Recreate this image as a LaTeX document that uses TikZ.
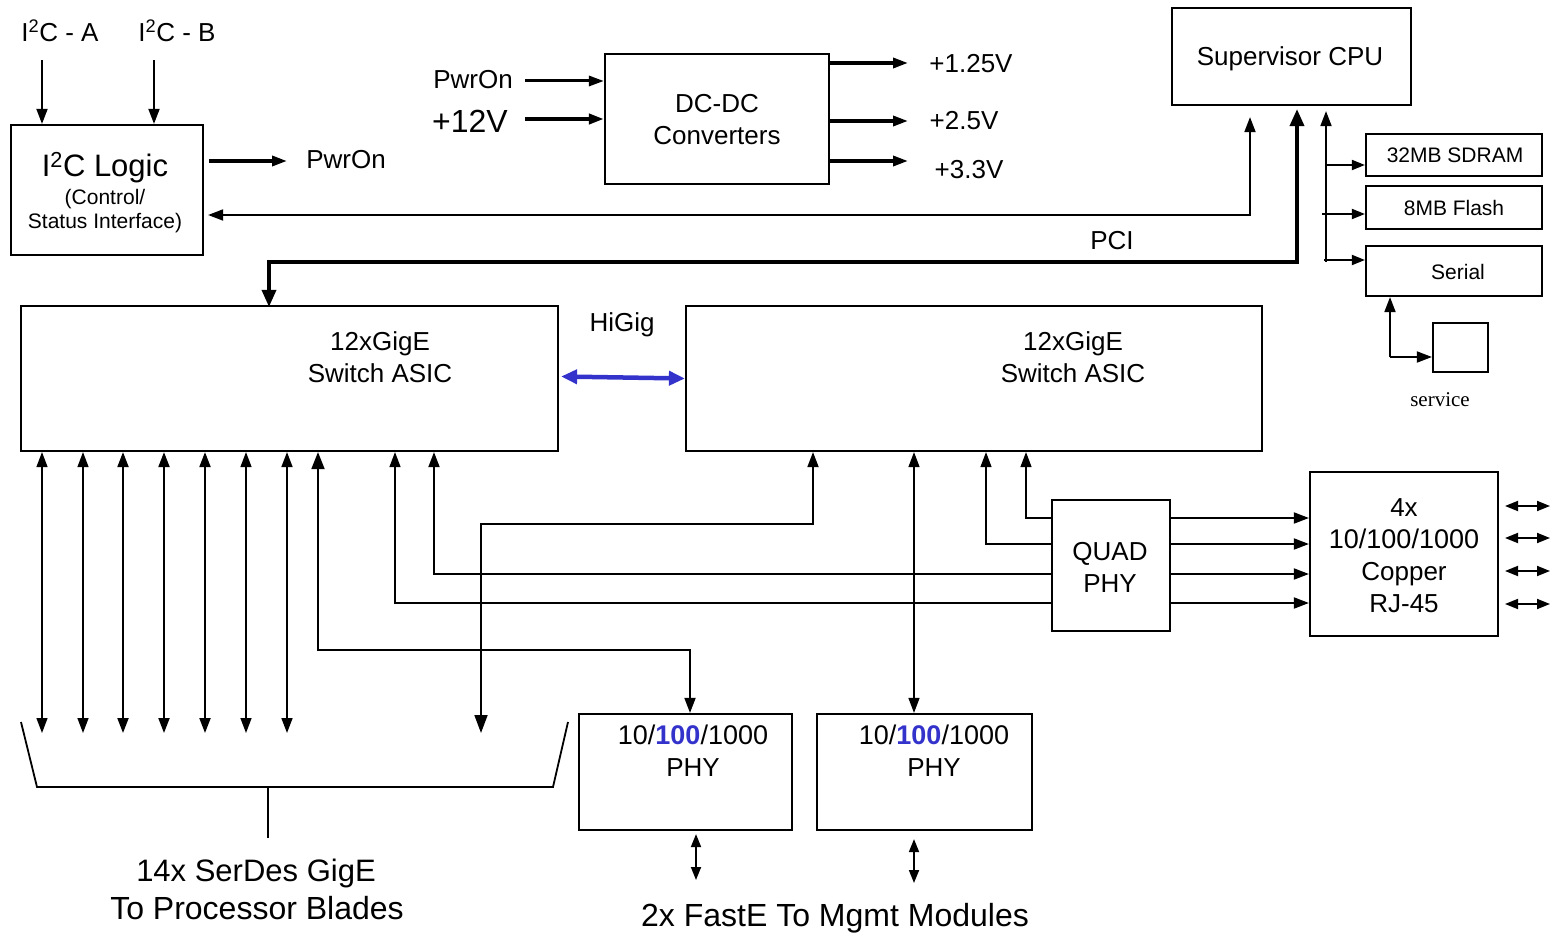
\documentclass[tikz,border=0pt]{standalone}
\usepackage{fontspec}
\setmainfont{Liberation Sans}
\newfontfamily\servfont{Liberation Serif}
\usetikzlibrary{arrows.meta,calc}
\definecolor{hig}{RGB}{51,51,204}
\begin{document}
\begin{tikzpicture}[x=1pt,y=-1pt,
  box/.style={draw,line width=2.2pt,inner sep=0pt},
  tt/.style={inner sep=0pt,anchor=base},
  t21/.style={tt,font=\fontsize{21}{25}\selectfont},
  t26/.style={tt,font=\fontsize{26}{31}\selectfont},
  t27/.style={tt,font=\fontsize{27}{31}\selectfont},
  t31/.style={tt,font=\fontsize{31}{36}\selectfont},
  t32/.style={tt,font=\fontsize{32}{38}\selectfont},
  ln/.style={line width=1.8pt},
  thinl/.style={line width=1.3pt},
  wl/.style={line width=3.4pt,>={Triangle[length=15pt,width=10pt]}},
  pci/.style={line width=3.6pt,>={Triangle[length=17pt,width=14pt]}},
  sm/.style={>={Triangle[length=13pt,width=10pt]}},
  >={Triangle[length=15pt,width=11pt]}]
\useasboundingbox (0,0) rectangle (1553,933);

% ---------- boxes ----------
\node[box,minimum width=192pt,minimum height=130pt] (i2c) at (107,190) {};
\node[box,minimum width=224pt,minimum height=130pt] (dcdc) at (717,119) {};
\node[box,minimum width=239pt,minimum height=97pt] (cpu) at (1291.5,56.5) {};
\node[box,minimum width=176pt,minimum height=42pt] (sdram) at (1454,155) {};
\node[box,minimum width=176pt,minimum height=43pt] (flash) at (1454,207.5) {};
\node[box,minimum width=176pt,minimum height=50pt] (serial) at (1454,271) {};
\node[box,minimum width=55pt,minimum height=49pt] (svc) at (1460.5,347.5) {};
\node[box,minimum width=537pt,minimum height=145pt] (asicL) at (289.5,378.5) {};
\node[box,minimum width=576pt,minimum height=145pt] (asicR) at (974,378.5) {};
\node[box,minimum width=118pt,minimum height=131pt] (quad) at (1111,565.5) {};
\node[box,minimum width=188pt,minimum height=164pt] (rj) at (1404,554) {};
\node[box,minimum width=213pt,minimum height=116pt] (phy1) at (685.5,772) {};
\node[box,minimum width=215pt,minimum height=116pt] (phy2) at (924.5,772) {};

% ---------- texts ----------
\node[t26] (lblA) at (60,42) {I\textsuperscript{2}C - A};
\node[t26] (lblB) at (177,42) {I\textsuperscript{2}C - B};
\node[t31] (i2cT1) at (105,177) {I\textsuperscript{2}C Logic};
\node[t21] (i2cT2) at (105,205) {(Control/};
\node[t21] (i2cT3) at (105,229) {Status Interface)};
\node[t26] (pwOut) at (346,169) {PwrOn};
\node[t26] (pwIn) at (473,89) {PwrOn};
\node[t32] (v12) at (470,133) {+12V};
\node[t26] (dcT1) at (717,113) {DC-DC};
\node[t26] (dcT2) at (717,145) {Converters};
\node[t26] (v125) at (971,73) {+1.25V};
\node[t26] (v25) at (964,130) {+2.5V};
\node[t26] (v33) at (969,179) {+3.3V};
\node[t26] (cpuT) at (1290,66) {Supervisor CPU};
\node[t21] (sdT) at (1455,163) {32MB SDRAM};
\node[t21] (flT) at (1454,216) {8MB Flash};
\node[t21] (seT) at (1458,280) {Serial};
\node[tt,font=\servfont\fontsize{21}{25}\selectfont] (svT) at (1440,406) {service};
\node[t26] (pciT) at (1112,250) {PCI};
\node[t26] (hgT) at (622,332) {HiGig};
\node[t26] (aLT1) at (380,350) {12xGigE};
\node[t26] (aLT2) at (380,382) {Switch ASIC};
\node[t26] (aRT1) at (1073,350) {12xGigE};
\node[t26] (aRT2) at (1073,382) {Switch ASIC};
\node[t26] (qT1) at (1110,560) {QUAD};
\node[t26] (qT2) at (1110,592) {PHY};
\node[t26] (rjT1) at (1404,516) {4x};
\node[t27] (rjT2) at (1404,548) {10/100/1000};
\node[t26] (rjT3) at (1404,580) {Copper};
\node[t26] (rjT4) at (1404,612) {RJ-45};
\node[t27] (p1T1) at (693,744) {10/\textbf{\textcolor{hig}{100}}/1000};
\node[t26] (p1T2) at (693,776) {PHY};
\node[t27] (p2T1) at (934,744) {10/\textbf{\textcolor{hig}{100}}/1000};
\node[t26] (p2T2) at (934,776) {PHY};
\node[t31] (serT1) at (256,881) {14x SerDes GigE};
\node[t32] (serT2) at (257,919) {To Processor Blades};
\node[t32] (mgT) at (835,926) {2x FastE To Mgmt Modules};

% ---------- connectors ----------
% I2C inputs
\coordinate (ia) at (42,60);
\coordinate (ib) at (154,60);
\draw[ln,->] (ia) -- (ia |- i2c.north);
\draw[ln,->] (ib) -- (ib |- i2c.north);
% PwrOn out
\coordinate (pw) at (287,161);
\draw[wl,->] ($(i2c.east |- pw)+(5,0)$) -- (pw);
% DC inputs
\coordinate (d1) at (525,81);
\coordinate (d2) at (525,119);
\draw[line width=3pt,>={Triangle[length=15pt,width=10pt]},->] (d1) -- (d1 -| dcdc.west);
\draw[line width=4.2pt,>={Triangle[length=15pt,width=10pt]},->] (d2) -- (d2 -| dcdc.west);
% DC outputs
\coordinate (o1) at (908,63);
\coordinate (o2) at (908,121);
\coordinate (o3) at (908,161);
\draw[wl,->] (o1 -| dcdc.east) -- (o1);
\draw[wl,->] (o2 -| dcdc.east) -- (o2);
\draw[wl,->] (o3 -| dcdc.east) -- (o3);
% CPU <-> I2C
\coordinate (k1) at (1250,215);
\draw[ln,<->] ($(k1 -| i2c.east)+(4,0)$) -- (k1) -- ($(k1 |- cpu.south)+(0,11)$);
% PCI
\coordinate (p1) at (1297,262);
\coordinate (p2) at (269,262);
\draw[pci,<->] ($(p2 |- asicL.north)+(0,2)$) -- (p2) -- (p1) -- ($(p1 |- cpu.south)+(0,3)$);
% local bus
\coordinate (lb) at (1326,262);
\draw[ln,->] (lb) -- ($(lb |- cpu.south)+(0,5)$);
\coordinate (b1) at (1326,165);
\coordinate (b2) at (1322,214);
\coordinate (b3) at (1324,260);
\draw[ln,sm,->] (b1) -- (b1 -| sdram.west);
\draw[ln,sm,->] (b2) -- (b2 -| flash.west);
\draw[ln,sm,->] (b3) -- (b3 -| serial.west);
% service
\coordinate (s0) at (1390,357);
\draw[ln,->] (s0) -- (s0 |- serial.south);
\draw[ln,->] (s0) -- (s0 -| svc.west);
% HiGig
\draw[line width=4.5pt,hig,>={Triangle[length=16pt,width=14pt]},<->] ($(asicL.east)+(2,-2)$) -- (asicR.west);
% left serdes lines
\foreach \x/\w [count=\i] in {42/1.3pt,83/1.4pt,123/2pt,164/2pt,205/2pt,246/1.4pt,287/1.7pt} {
  \coordinate (v\i) at (\x,733);
  \draw[line width=\w,<->] (v\i |- asicL.south) -- (v\i);
}
% 318 -> PHY1
\coordinate (c1) at (318,650);
\coordinate (c2) at (690,650);
\draw[ln,{Triangle[length=17pt,width=13pt]}-{Triangle[length=15pt,width=11pt]}] (c1 |- asicL.south) -- (c1) -- (c2) -- (c2 |- phy1.north);
% QUAD -> left ASIC
\coordinate (q1) at (395,603);
\coordinate (q2) at (434,574);
\draw[thinl,<-] (q1 |- asicL.south) -- (q1) -- (q1 -| quad.west);
\draw[ln,<-] (q2 |- asicL.south) -- (q2) -- (q2 -| quad.west);
% QUAD -> right ASIC
\coordinate (q3) at (986,544);
\coordinate (q4) at (1026,518);
\draw[thinl,<-] (q3 |- asicR.south) -- (q3) -- (q3 -| quad.west);
\draw[thinl,<-] (q4 |- asicR.south) -- (q4) -- (q4 -| quad.west);
% QUAD -> RJ45
\foreach \y [count=\i] in {518,544,574,603} {
  \coordinate (qr\i) at (1200,\y);
  \draw[ln,->] (quad.east |- qr\i) -- (rj.west |- qr\i);
}
% right ASIC -> serdes
\coordinate (m1) at (813,524);
\coordinate (m2) at (481,524);
\coordinate (m3) at (481,733);
\draw[ln,{Triangle[length=15pt,width=11pt]}-{Triangle[length=18pt,width=13pt]}] (m1 |- asicR.south) -- (m1) -- (m2) -- (m3);
% right ASIC <-> PHY2
\coordinate (n1) at (914,600);
\draw[thinl,<->] (n1 |- asicR.south) -- (n1 |- phy2.north);
% PHY outputs
\coordinate (f1) at (696,880);
\coordinate (f2) at (914,883);
\draw[ln,sm,<->] ($(f1 |- phy1.south)+(0,3)$) -- (f1);
\draw[ln,sm,<->] ($(f2 |- phy2.south)+(0,8)$) -- (f2);
% RJ45 ports
\foreach \y [count=\i] in {506,538,571,604} {
  \coordinate (ja\i) at (1505,\y);
  \coordinate (jb\i) at (1550,\y);
  \draw[ln,sm,<->] (ja\i) -- (jb\i);
}
% bracket
\coordinate (br1) at (21,722);
\coordinate (br2) at (37,787);
\coordinate (br3) at (553,787);
\coordinate (br4) at (568,722);
\coordinate (br5) at (268,787);
\coordinate (br6) at (268,838);
\draw[ln] (br1) -- (br2) -- (br3) -- (br4);
\draw[ln] (br5) -- (br6);
\end{tikzpicture}
\end{document}
